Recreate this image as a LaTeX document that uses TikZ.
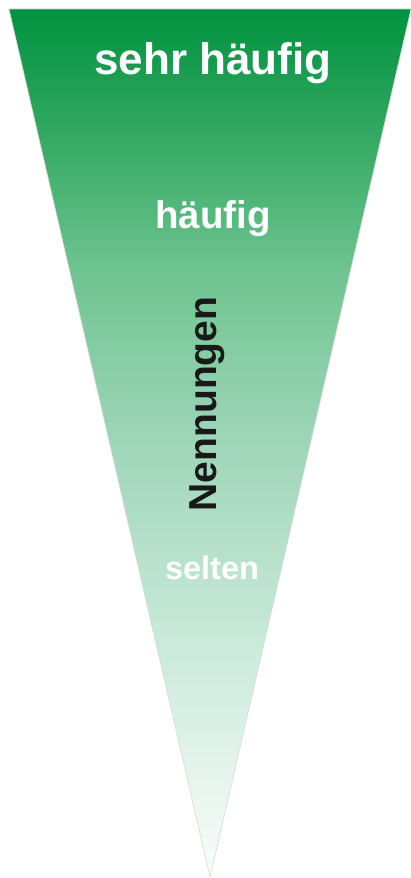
\documentclass[tikz,border=0pt]{standalone}
\usepackage{fontspec}
\setmainfont{Liberation Sans}
\pgfdeclareverticalshading{funnel}{100bp}{%
  rgb(0bp)=(0.98,0.99,0.98);
  rgb(25bp)=(0.98,0.99,0.98);
  rgb(38bp)=(0.80,0.92,0.86);
  rgb(49.6bp)=(0.63,0.84,0.73);
  rgb(59.7bp)=(0.44,0.77,0.57);
  rgb(68.6bp)=(0.18,0.65,0.37);
  rgb(75bp)=(0,0.573,0.247);
  rgb(100bp)=(0,0.573,0.247)}
\begin{document}
\begin{tikzpicture}[x=1pt,y=1pt,
  lbl/.style={inner sep=0pt, anchor=center}]
\useasboundingbox (0,0) rectangle (411,878);
\fill[white] (0,0) rectangle (411,878);
\coordinate (tl) at (9,869);
\coordinate (tr) at (411,869);
\coordinate (tip) at (210,1);
\shade[shading=funnel, draw=black!15, line width=0.6pt]
  (tl) -- (tr) -- (tip) -- cycle;
\node[lbl, text=white, font=\fontsize{44}{44}\selectfont\bfseries] (sh) at (213,815) {sehr häufig};
\node[lbl, text=white, font=\fontsize{38.5}{38.5}\selectfont\bfseries] (h) at (213,659) {häufig};
\node[lbl, text=black!90, rotate=90, font=\fontsize{39}{39}\selectfont\bfseries] (n) at (207,474) {Nennungen};
\node[lbl, text=white, font=\fontsize{32.5}{32.5}\selectfont\bfseries] (s) at (212,310) {selten};
\end{tikzpicture}
\end{document}
